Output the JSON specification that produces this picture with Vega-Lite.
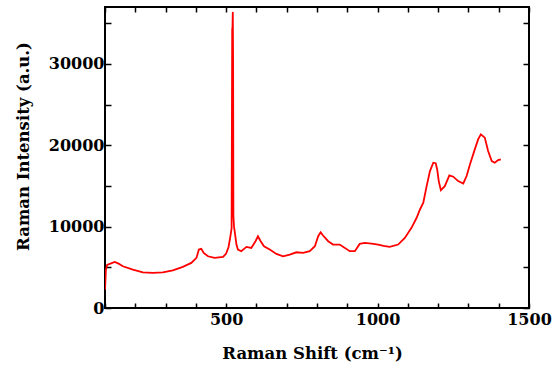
{
  "$schema": "https://vega.github.io/schema/vega-lite/v6.json",
  "autosize": {"type": "none"},
  "padding": {"left": 105, "top": 7, "right": 24, "bottom": 58},
  "width": 424,
  "height": 301,
  "background": "white",
  "config": {
    "view": {"stroke": "black", "strokeWidth": 2},
    "axis": {
      "labelFont": "DejaVu Serif", "labelFontWeight": "bold", "labelFontSize": 16, "labelColor": "black",
      "titleFont": "DejaVu Serif", "titleFontWeight": "bold", "titleFontSize": 16.5, "titleColor": "black",
      "grid": false, "domain": false, "tickColor": "black", "tickWidth": 1.5, "labelFlush": false, "labelOverlap": false
    }
  },
  "data": {"values": [
    {"shift": 100, "intensity": 2250}, {"shift": 103, "intensity": 4700}, {"shift": 107, "intensity": 5300},
    {"shift": 118, "intensity": 5450}, {"shift": 132, "intensity": 5670}, {"shift": 145, "intensity": 5450},
    {"shift": 159, "intensity": 5130}, {"shift": 192, "intensity": 4720}, {"shift": 225, "intensity": 4390},
    {"shift": 258, "intensity": 4310}, {"shift": 291, "intensity": 4390}, {"shift": 324, "intensity": 4630},
    {"shift": 357, "intensity": 5050}, {"shift": 385, "intensity": 5540}, {"shift": 402, "intensity": 6160},
    {"shift": 410, "intensity": 7180}, {"shift": 418, "intensity": 7270}, {"shift": 426, "intensity": 6780},
    {"shift": 440, "intensity": 6360}, {"shift": 462, "intensity": 6160}, {"shift": 490, "intensity": 6280},
    {"shift": 500, "intensity": 6700}, {"shift": 508, "intensity": 7500}, {"shift": 514, "intensity": 8800},
    {"shift": 518, "intensity": 9800}, {"shift": 520, "intensity": 34300}, {"shift": 521, "intensity": 34500},
    {"shift": 522, "intensity": 36400}, {"shift": 523, "intensity": 30000}, {"shift": 524, "intensity": 11300},
    {"shift": 526, "intensity": 10000}, {"shift": 529, "intensity": 9200}, {"shift": 534, "intensity": 7800},
    {"shift": 539, "intensity": 7180}, {"shift": 550, "intensity": 6980}, {"shift": 567, "intensity": 7510},
    {"shift": 583, "intensity": 7390}, {"shift": 597, "intensity": 8210}, {"shift": 605, "intensity": 8820},
    {"shift": 614, "intensity": 8210}, {"shift": 625, "intensity": 7590}, {"shift": 644, "intensity": 7180},
    {"shift": 666, "intensity": 6650}, {"shift": 688, "intensity": 6360}, {"shift": 710, "intensity": 6570},
    {"shift": 732, "intensity": 6850}, {"shift": 754, "intensity": 6780}, {"shift": 776, "intensity": 6980},
    {"shift": 793, "intensity": 7590}, {"shift": 804, "intensity": 8820}, {"shift": 812, "intensity": 9310},
    {"shift": 820, "intensity": 8910}, {"shift": 837, "intensity": 8210}, {"shift": 853, "intensity": 7800},
    {"shift": 875, "intensity": 7800}, {"shift": 892, "intensity": 7390}, {"shift": 908, "intensity": 6980},
    {"shift": 925, "intensity": 6980}, {"shift": 941, "intensity": 7880}, {"shift": 958, "intensity": 8010},
    {"shift": 980, "intensity": 7920}, {"shift": 1002, "intensity": 7800}, {"shift": 1020, "intensity": 7650},
    {"shift": 1040, "intensity": 7510}, {"shift": 1068, "intensity": 7800}, {"shift": 1090, "intensity": 8620},
    {"shift": 1112, "intensity": 9860}, {"shift": 1129, "intensity": 11090}, {"shift": 1140, "intensity": 12110},
    {"shift": 1151, "intensity": 12940}, {"shift": 1162, "intensity": 14980}, {"shift": 1173, "intensity": 16830},
    {"shift": 1184, "intensity": 17860}, {"shift": 1192, "intensity": 17800}, {"shift": 1197, "intensity": 17000},
    {"shift": 1202, "intensity": 15600}, {"shift": 1209, "intensity": 14490}, {"shift": 1222, "intensity": 14980},
    {"shift": 1237, "intensity": 16300}, {"shift": 1250, "intensity": 16140}, {"shift": 1266, "intensity": 15600},
    {"shift": 1283, "intensity": 15310}, {"shift": 1294, "intensity": 16220}, {"shift": 1305, "intensity": 17650},
    {"shift": 1321, "intensity": 19500}, {"shift": 1332, "intensity": 20730}, {"shift": 1341, "intensity": 21350},
    {"shift": 1354, "intensity": 20940}, {"shift": 1365, "intensity": 19290}, {"shift": 1377, "intensity": 18060},
    {"shift": 1387, "intensity": 17860}, {"shift": 1398, "intensity": 18180}, {"shift": 1407, "intensity": 18270}
  ]},
  "resolve": {"axis": {"x": "independent", "y": "independent"}},
  "layer": [
    {
      "mark": {"type": "line", "color": "#ff0000", "strokeWidth": 1.8, "clip": true},
      "encoding": {
        "x": {"field": "shift", "type": "quantitative",
              "scale": {"domain": [100, 1500], "nice": false, "zero": false},
              "axis": {"orient": "bottom", "title": "Raman Shift (cm⁻¹)",
                       "values": [100,200,300,400,500,600,700,800,900,1000,1100,1200,1300,1400,1500],
                       "labelExpr": "datum.value % 500 === 0 ? datum.label : ''",
                       "format": "d", "tickSize": -5, "labelPadding": 8,
                       "titleX": 207, "titleY": 50, "titleBaseline": "alphabetic"}},
        "y": {"field": "intensity", "type": "quantitative",
              "scale": {"domain": [0, 37000], "nice": false},
              "axis": {"orient": "left", "title": "Raman Intensity (a.u.)",
                       "values": [0,5000,10000,15000,20000,25000,30000,35000],
                       "labelExpr": "datum.value % 10000 === 0 ? datum.label : ''",
                       "format": "d", "tickSize": -6, "labelPadding": 7,
                       "titleX": -82, "titleY": 139, "titleBaseline": "middle", "titleAlign": "center", "titleAngle": -90}}
      }
    },
    {
      "mark": {"type": "line", "opacity": 0},
      "encoding": {
        "x": {"field": "shift", "type": "quantitative",
              "scale": {"domain": [100, 1500], "nice": false, "zero": false},
              "axis": {"orient": "top", "title": null, "labels": false,
                       "values": [100,200,300,400,500,600,700,800,900,1000,1100,1200,1300,1400,1500],
                       "tickSize": -5}},
        "y": {"field": "intensity", "type": "quantitative",
              "scale": {"domain": [0, 37000], "nice": false},
              "axis": {"orient": "right", "title": null, "labels": false,
                       "values": [0,5000,10000,15000,20000,25000,30000,35000],
                       "tickSize": -6}}
      }
    }
  ]
}
